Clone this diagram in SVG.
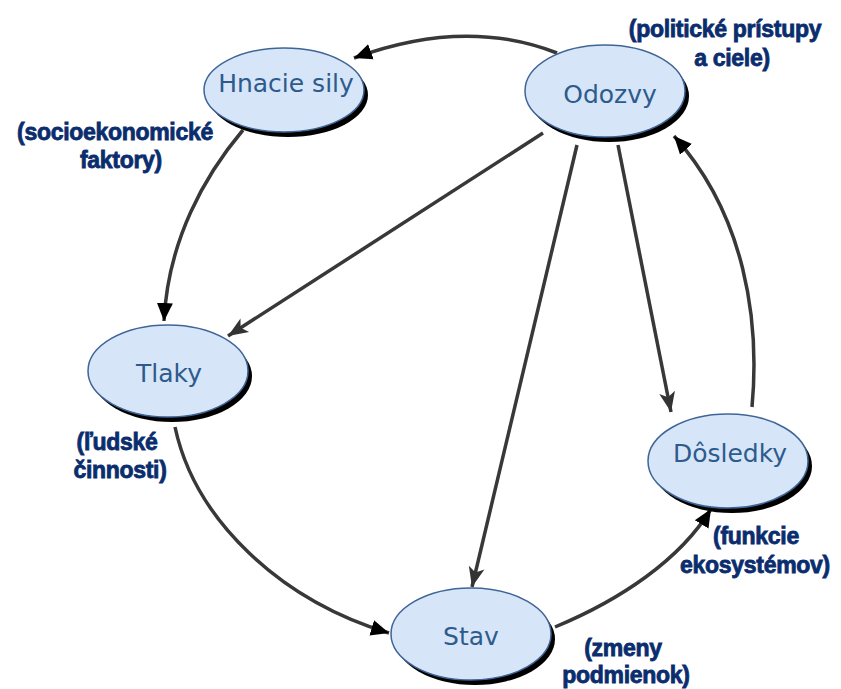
<svg xmlns="http://www.w3.org/2000/svg" width="841" height="689" viewBox="0 0 841 689">
<style>
.shadow{fill:#000}
.node{fill:#d7e5f8;stroke:#3f6596;stroke-width:1.5}
.nt{font-family:"DejaVu Sans","Open Sans",sans-serif;font-size:25px;fill:#2d5b8c;text-anchor:middle}
.lb{font-family:"Liberation Sans",Arial,sans-serif;font-size:23px;font-weight:bold;fill:#0a2d6e;stroke:#0a2d6e;stroke-width:0.8;text-anchor:middle;letter-spacing:-0.3px}
.edge{fill:none;stroke:#383838;stroke-width:3.5}
.solid{marker-end:url(#ah)}
.barb{marker-end:url(#ab)}
</style>
<defs>
<marker id="ah" markerUnits="userSpaceOnUse" markerWidth="20" markerHeight="20" viewBox="0 0 20 20" refX="18" refY="10" orient="auto">
<path d="M0,2 L18,10 L0,18 Z" fill="#000"/>
</marker>
<marker id="ab" markerUnits="userSpaceOnUse" markerWidth="22" markerHeight="22" viewBox="0 0 22 22" refX="20" refY="11" orient="auto">
<path d="M0,3 L20,11 L0,19 L5,11 Z" fill="#333"/>
</marker>
</defs>
<g id="connectors">
<path class="edge solid" d="M557,53 Q465,17 354,58"/>
<path class="edge solid" d="M243,130 C205,175 168,240 164,321"/>
<path class="edge barb" d="M543,133 L228,336"/>
<path class="edge barb" d="M577,145 L472,587"/>
<path class="edge barb" d="M618,145 L671,412"/>
<path class="edge solid" d="M752,407 C760,320 745,215 674,136"/>
<path class="edge solid" d="M175,427 C195,520 280,600 389,633"/>
<path class="edge solid" d="M555,627 C620,600 680,560 711,509"/>
</g>
<g id="hnacie-sily">
<ellipse class="shadow" cx="288" cy="95" rx="80" ry="42"/>
<ellipse class="node" cx="284" cy="90" rx="80" ry="42"/>
<text class="nt" x="286" y="92">Hnacie sily</text>
</g>
<g id="odozvy">
<ellipse class="shadow" cx="609" cy="96" rx="80" ry="46"/>
<ellipse class="node" cx="605" cy="91" rx="80" ry="46"/>
<text class="nt" x="610" y="103">Odozvy</text>
</g>
<g id="tlaky">
<ellipse class="shadow" cx="172" cy="376" rx="80" ry="46"/>
<ellipse class="node" cx="168" cy="371" rx="80" ry="46"/>
<text class="nt" x="169" y="382">Tlaky</text>
</g>
<g id="dosledky">
<ellipse class="shadow" cx="732" cy="466" rx="80" ry="47"/>
<ellipse class="node" cx="728" cy="461" rx="80" ry="47"/>
<text class="nt" x="730" y="462">Dôsledky</text>
</g>
<g id="stav">
<ellipse class="shadow" cx="475" cy="639" rx="80" ry="46"/>
<ellipse class="node" cx="471" cy="634" rx="80" ry="46"/>
<text class="nt" x="471" y="645">Stav</text>
</g>
<g id="labels">
<text class="lb" x="725" y="37">(politické prístupy</text>
<text class="lb" x="732" y="66">a ciele)</text>
<text class="lb" x="115" y="140">(socioekonomické</text>
<text class="lb" x="121" y="168">faktory)</text>
<text class="lb" x="117" y="450">(ľudské</text>
<text class="lb" x="120" y="478">činnosti)</text>
<text class="lb" x="756" y="544">(funkcie</text>
<text class="lb" x="755" y="573">ekosystémov)</text>
<text class="lb" x="623" y="656">(zmeny</text>
<text class="lb" x="626" y="683">podmienok)</text>
</g>
</svg>
